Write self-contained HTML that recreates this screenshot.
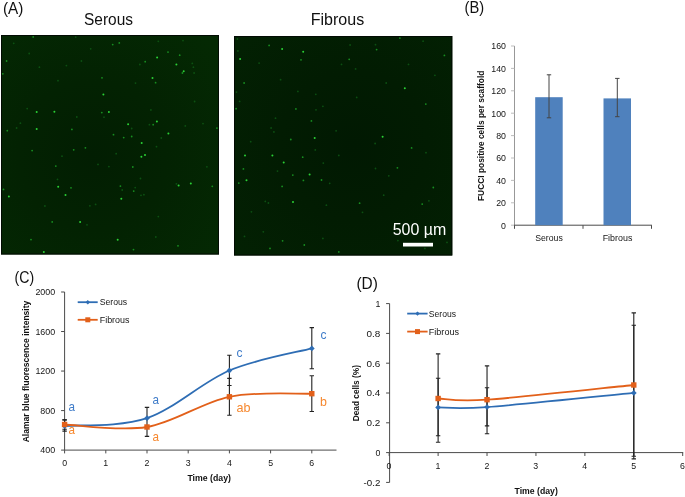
<!DOCTYPE html>
<html lang="en">
<head>
<meta charset="utf-8">
<title>Figure</title>
<style>
html,body{margin:0;padding:0;background:#fff;}
body{width:685px;height:497px;overflow:hidden;}
svg{display:block;font-family:'Liberation Sans', 'DejaVu Sans', sans-serif;}
</style>
</head>
<body>
<svg width="685" height="497" viewBox="0 0 685 497">
<rect width="685" height="497" fill="#fff"/>
<defs><radialGradient id="gA" cx="0.42" cy="0.55" r="0.75"><stop offset="0" stop-color="#021e02"/><stop offset="0.45" stop-color="#032202"/><stop offset="1" stop-color="#042903"/></radialGradient></defs>
<rect x="1" y="35" width="218" height="219.5" fill="url(#gA)"/>
<rect x="1.5" y="35.5" width="217" height="218.5" fill="none" stroke="#020b03" stroke-width="1"/>
<g fill="#2ad035" opacity="1.0"><circle cx="103.4" cy="94.6" r="1.0"/><circle cx="36.7" cy="112.1" r="1.0"/><circle cx="54.4" cy="111.7" r="1.0"/><circle cx="108.9" cy="111.9" r="1.0"/><circle cx="36.7" cy="129" r="1.0"/><circle cx="157.1" cy="57.5" r="1.0"/><circle cx="176.4" cy="64.5" r="1.0"/><circle cx="183.7" cy="71.2" r="1.0"/><circle cx="152.5" cy="78" r="1.0"/><circle cx="156.9" cy="121.4" r="1.0"/><circle cx="128.1" cy="124.3" r="1.0"/><circle cx="168.4" cy="133.6" r="1.0"/><circle cx="141.7" cy="142.9" r="1.0"/><circle cx="58.2" cy="186.7" r="1.0"/><circle cx="8.9" cy="196.5" r="1.0"/><circle cx="65.5" cy="194.9" r="1.0"/><circle cx="80.1" cy="221.9" r="1.0"/><circle cx="43.8" cy="252" r="1.0"/><circle cx="145" cy="155.1" r="1.0"/><circle cx="141.4" cy="156.8" r="1.0"/><circle cx="121.3" cy="198.7" r="1.0"/><circle cx="178.6" cy="185.6" r="1.0"/><circle cx="190.8" cy="183.4" r="1.0"/><circle cx="117.7" cy="239.8" r="1.0"/></g>
<g fill="#1a9a24" opacity="0.9"><circle cx="33.2" cy="36.9" r="0.9"/><circle cx="6.6" cy="61" r="0.9"/><circle cx="2.8" cy="73.8" r="0.9"/><circle cx="102" cy="77.8" r="0.9"/><circle cx="101.8" cy="112.6" r="0.9"/><circle cx="7.3" cy="130.7" r="0.9"/><circle cx="71.9" cy="129.4" r="0.9"/><circle cx="112.7" cy="44.6" r="0.9"/><circle cx="119.3" cy="42.9" r="0.9"/><circle cx="168" cy="52.1" r="0.9"/><circle cx="179.7" cy="55.2" r="0.9"/><circle cx="145.2" cy="61.7" r="0.9"/><circle cx="182.4" cy="73" r="0.9"/><circle cx="155.6" cy="82.7" r="0.9"/><circle cx="153.2" cy="124.7" r="0.9"/><circle cx="216.9" cy="128.1" r="0.9"/><circle cx="113.5" cy="134.7" r="0.9"/><circle cx="123.7" cy="137.6" r="0.9"/><circle cx="131.7" cy="136.5" r="0.9"/><circle cx="32.1" cy="150.6" r="0.9"/><circle cx="73.7" cy="149.8" r="0.9"/><circle cx="85.4" cy="147.8" r="0.9"/><circle cx="55.8" cy="166.1" r="0.9"/><circle cx="71" cy="187.8" r="0.9"/><circle cx="3.5" cy="189.4" r="0.9"/><circle cx="52.2" cy="221.9" r="0.9"/><circle cx="31" cy="239.6" r="0.9"/><circle cx="132.8" cy="167" r="0.9"/><circle cx="120.4" cy="186.1" r="0.9"/><circle cx="133.7" cy="191.1" r="0.9"/><circle cx="212.3" cy="186.3" r="0.9"/><circle cx="178" cy="245.8" r="0.9"/><circle cx="133.5" cy="249.6" r="0.9"/></g>
<g fill="#0f5c16" opacity="0.8"><circle cx="13.7" cy="43.3" r="0.9"/><circle cx="75.7" cy="37.1" r="0.9"/><circle cx="90.7" cy="48.8" r="0.9"/><circle cx="29.2" cy="53.5" r="0.9"/><circle cx="39.4" cy="67.2" r="0.9"/><circle cx="66.4" cy="65.6" r="0.9"/><circle cx="81.4" cy="61" r="0.9"/><circle cx="58" cy="80.7" r="0.9"/><circle cx="27.2" cy="108.6" r="0.9"/><circle cx="76.8" cy="117" r="0.9"/><circle cx="104" cy="117.2" r="0.9"/><circle cx="16.6" cy="128" r="0.9"/><circle cx="20.4" cy="123.2" r="0.9"/><circle cx="158.3" cy="41.3" r="0.9"/><circle cx="183" cy="40.6" r="0.9"/><circle cx="139.9" cy="64.5" r="0.9"/><circle cx="192.3" cy="63.4" r="0.9"/><circle cx="193.4" cy="67.2" r="0.9"/><circle cx="194.1" cy="73" r="0.9"/><circle cx="135.5" cy="83.1" r="0.9"/><circle cx="150.9" cy="109.9" r="0.9"/><circle cx="149.4" cy="124.7" r="0.9"/><circle cx="131.7" cy="128.5" r="0.9"/><circle cx="185.3" cy="125.9" r="0.9"/><circle cx="203" cy="123.6" r="0.9"/><circle cx="161.3" cy="138" r="0.9"/><circle cx="194.6" cy="101.5" r="0.9"/><circle cx="62" cy="156.2" r="0.9"/><circle cx="98" cy="164.4" r="0.9"/><circle cx="108.9" cy="166.6" r="0.9"/><circle cx="57.5" cy="179.4" r="0.9"/><circle cx="44.9" cy="206" r="0.9"/><circle cx="95.6" cy="204.4" r="0.9"/><circle cx="89.9" cy="205.8" r="0.9"/><circle cx="87" cy="224.8" r="0.9"/><circle cx="140.5" cy="178.5" r="0.9"/><circle cx="122.2" cy="190" r="0.9"/><circle cx="135.2" cy="187.6" r="0.9"/><circle cx="143.9" cy="194.7" r="0.9"/><circle cx="141" cy="195.3" r="0.9"/><circle cx="176.4" cy="183.8" r="0.9"/><circle cx="206.9" cy="166.8" r="0.9"/><circle cx="158.3" cy="216.6" r="0.9"/><circle cx="155.8" cy="237" r="0.9"/><circle cx="156.5" cy="146.7" r="0.9"/><circle cx="116.2" cy="153.7" r="0.9"/></g>
<defs><radialGradient id="gB" cx="0.55" cy="0.5" r="0.75"><stop offset="0" stop-color="#011902"/><stop offset="0.45" stop-color="#021c02"/><stop offset="1" stop-color="#032103"/></radialGradient></defs>
<rect x="234" y="36" width="218.3" height="219.5" fill="url(#gB)"/>
<rect x="234.5" y="36.5" width="217.3" height="218.5" fill="none" stroke="#020b03" stroke-width="1"/>
<g fill="#2ad035" opacity="1.0"><circle cx="282.1" cy="48.9" r="1.0"/><circle cx="303.2" cy="51.8" r="1.0"/><circle cx="240.1" cy="58.9" r="1.0"/><circle cx="314.7" cy="138.1" r="1.0"/><circle cx="404.8" cy="88.3" r="1.0"/><circle cx="382.6" cy="136.8" r="1.0"/><circle cx="245" cy="155.4" r="1.0"/><circle cx="272.4" cy="155.6" r="1.0"/><circle cx="283.7" cy="162.5" r="1.0"/><circle cx="309.6" cy="174.4" r="1.0"/><circle cx="246.5" cy="180.2" r="1.0"/><circle cx="293" cy="201.9" r="1.0"/></g>
<g fill="#1a9a24" opacity="0.9"><circle cx="269.1" cy="45.4" r="0.9"/><circle cx="301" cy="59.8" r="0.9"/><circle cx="244.1" cy="83" r="0.9"/><circle cx="236.1" cy="108.7" r="0.9"/><circle cx="295.9" cy="108.9" r="0.9"/><circle cx="311.4" cy="120.9" r="0.9"/><circle cx="290.8" cy="139.5" r="0.9"/><circle cx="399.9" cy="38.1" r="0.9"/><circle cx="376.6" cy="49.6" r="0.9"/><circle cx="349.2" cy="59.3" r="0.9"/><circle cx="444.4" cy="55.4" r="0.9"/><circle cx="425.8" cy="104.1" r="0.9"/><circle cx="302.7" cy="157.2" r="0.9"/><circle cx="243.4" cy="168.9" r="0.9"/><circle cx="292.8" cy="175.1" r="0.9"/><circle cx="303.4" cy="180.4" r="0.9"/><circle cx="321.5" cy="180" r="0.9"/><circle cx="238.8" cy="183.1" r="0.9"/><circle cx="282.1" cy="186.4" r="0.9"/><circle cx="282.6" cy="240.8" r="0.9"/><circle cx="304.3" cy="245" r="0.9"/><circle cx="270" cy="248.4" r="0.9"/><circle cx="338.8" cy="251.9" r="0.9"/><circle cx="411.6" cy="147.9" r="0.9"/><circle cx="397.4" cy="167.8" r="0.9"/><circle cx="433.3" cy="187.5" r="0.9"/><circle cx="359.6" cy="203.2" r="0.9"/><circle cx="422.2" cy="204.1" r="0.9"/></g>
<g fill="#0f5c16" opacity="0.8"><circle cx="237.9" cy="50.9" r="0.9"/><circle cx="237.4" cy="39" r="0.9"/><circle cx="259.1" cy="63.1" r="0.9"/><circle cx="341.5" cy="64.4" r="0.9"/><circle cx="280.6" cy="79.7" r="0.9"/><circle cx="236.5" cy="92.1" r="0.9"/><circle cx="297.9" cy="91.4" r="0.9"/><circle cx="315.8" cy="94.3" r="0.9"/><circle cx="239.6" cy="101.4" r="0.9"/><circle cx="322.9" cy="106.3" r="0.9"/><circle cx="316" cy="109.8" r="0.9"/><circle cx="275.5" cy="118.2" r="0.9"/><circle cx="271.1" cy="128" r="0.9"/><circle cx="273.9" cy="131.9" r="0.9"/><circle cx="336.1" cy="130.8" r="0.9"/><circle cx="250.7" cy="141.7" r="0.9"/><circle cx="375.5" cy="44.7" r="0.9"/><circle cx="350.1" cy="45" r="0.9"/><circle cx="355.6" cy="68.9" r="0.9"/><circle cx="408.5" cy="64.4" r="0.9"/><circle cx="386.2" cy="83" r="0.9"/><circle cx="356.7" cy="97.4" r="0.9"/><circle cx="434.9" cy="75.3" r="0.9"/><circle cx="375.1" cy="143.5" r="0.9"/><circle cx="423.1" cy="41.2" r="0.9"/><circle cx="315.3" cy="149.9" r="0.9"/><circle cx="323.3" cy="163.1" r="0.9"/><circle cx="338.8" cy="155.4" r="0.9"/><circle cx="277.5" cy="171.1" r="0.9"/><circle cx="329.7" cy="183.3" r="0.9"/><circle cx="265.3" cy="201.4" r="0.9"/><circle cx="268.4" cy="203" r="0.9"/><circle cx="326.4" cy="205.2" r="0.9"/><circle cx="251.4" cy="211.8" r="0.9"/><circle cx="263.3" cy="231.8" r="0.9"/><circle cx="244.5" cy="236.4" r="0.9"/><circle cx="322.9" cy="238.4" r="0.9"/><circle cx="426" cy="152.7" r="0.9"/><circle cx="388.8" cy="175.8" r="0.9"/><circle cx="383.7" cy="195.2" r="0.9"/><circle cx="428.9" cy="200.8" r="0.9"/><circle cx="362.5" cy="212.3" r="0.9"/><circle cx="424.9" cy="248.4" r="0.9"/><circle cx="447" cy="242.4" r="0.9"/><circle cx="397.9" cy="240.6" r="0.9"/><circle cx="375.5" cy="168.5" r="0.9"/></g>
<text x="2.9" y="13.8" font-size="15.8" text-anchor="start" fill="#111" textLength="20.4" lengthAdjust="spacingAndGlyphs">(A)</text>
<text x="464.6" y="13.0" font-size="15.8" text-anchor="start" fill="#111" textLength="19.6" lengthAdjust="spacingAndGlyphs">(B)</text>
<text x="14.6" y="283" font-size="15.8" text-anchor="start" fill="#111" textLength="19.6" lengthAdjust="spacingAndGlyphs">(C)</text>
<text x="356.4" y="289.1" font-size="15.8" text-anchor="start" fill="#111" textLength="21.4" lengthAdjust="spacingAndGlyphs">(D)</text>
<text x="84" y="25" font-size="15.8" text-anchor="start" fill="#111" textLength="49" lengthAdjust="spacingAndGlyphs">Serous</text>
<text x="310.7" y="25" font-size="15.8" text-anchor="start" fill="#111" textLength="53.5" lengthAdjust="spacingAndGlyphs">Fibrous</text>
<text x="392.7" y="234.8" font-size="15.8" text-anchor="start" fill="#fff" textLength="53.5" lengthAdjust="spacingAndGlyphs">500 µm</text>
<rect x="403" y="242.8" width="30" height="3.7" fill="#fff"/>
<path d="M514.5 46.00 V225.2" stroke="#8c8c8c" stroke-width="0.9" fill="none"/>
<g stroke="#b5b5b5" stroke-width="0.9" fill="none">
<path d="M511.0 225.20 H514.5"/>
<path d="M511.0 202.80 H514.5"/>
<path d="M511.0 180.40 H514.5"/>
<path d="M511.0 158.00 H514.5"/>
<path d="M511.0 135.60 H514.5"/>
<path d="M511.0 113.20 H514.5"/>
<path d="M511.0 90.80 H514.5"/>
<path d="M511.0 68.40 H514.5"/>
<path d="M511.0 46.00 H514.5"/>
</g>
<g stroke="#4a4a4a" stroke-width="1" fill="none">
<path d="M514.1 225.2 H651.9"/>
<path d="M514.5 225.2 v3.6"/>
<path d="M583 225.2 v3.6"/>
<path d="M651.5 225.2 v3.6"/>
</g>
<text x="506.0" y="228.5" font-size="9" text-anchor="end" fill="#151515" textLength="4.9" lengthAdjust="spacingAndGlyphs">0</text>
<text x="506.0" y="206.1" font-size="9" text-anchor="end" fill="#151515" textLength="9.8" lengthAdjust="spacingAndGlyphs">20</text>
<text x="506.0" y="183.7" font-size="9" text-anchor="end" fill="#151515" textLength="9.8" lengthAdjust="spacingAndGlyphs">40</text>
<text x="506.0" y="161.3" font-size="9" text-anchor="end" fill="#151515" textLength="9.8" lengthAdjust="spacingAndGlyphs">60</text>
<text x="506.0" y="138.9" font-size="9" text-anchor="end" fill="#151515" textLength="9.8" lengthAdjust="spacingAndGlyphs">80</text>
<text x="506.0" y="116.5" font-size="9" text-anchor="end" fill="#151515" textLength="14.7" lengthAdjust="spacingAndGlyphs">100</text>
<text x="506.0" y="94.1" font-size="9" text-anchor="end" fill="#151515" textLength="14.7" lengthAdjust="spacingAndGlyphs">120</text>
<text x="506.0" y="71.7" font-size="9" text-anchor="end" fill="#151515" textLength="14.7" lengthAdjust="spacingAndGlyphs">140</text>
<text x="506.0" y="49.3" font-size="9" text-anchor="end" fill="#151515" textLength="14.7" lengthAdjust="spacingAndGlyphs">160</text>
<rect x="535.2" y="97.2" width="27.5" height="128.0" fill="#4f81bd"/>
<rect x="603.5" y="98.4" width="27.5" height="126.8" fill="#4f81bd"/>
<path d="M549 74.8 V117.8 M546.8 74.8 h4.4 M546.8 117.8 h4.4" stroke="#444" stroke-width="1" fill="none"/>
<path d="M617.3 78.4 V116.7 M615.0999999999999 78.4 h4.4 M615.0999999999999 116.7 h4.4" stroke="#444" stroke-width="1" fill="none"/>
<text x="549" y="241.3" font-size="8.8" text-anchor="middle" fill="#151515" textLength="27.6" lengthAdjust="spacingAndGlyphs">Serous</text>
<text x="617.5" y="241.3" font-size="8.8" text-anchor="middle" fill="#151515" textLength="29.7" lengthAdjust="spacingAndGlyphs">Fibrous</text>
<text x="484" y="135.8" font-size="8.8" text-anchor="middle" fill="#111" font-weight="bold" textLength="130.4" lengthAdjust="spacingAndGlyphs" transform="rotate(-90 484 135.8)">FUCCI positive cells per scaffold</text>
<g stroke="#4a4a4a" stroke-width="1" fill="none">
<path d="M64.6 292.0 V450.1 H336.5"/>
<path d="M61.099999999999994 450.10 H64.6"/>
<path d="M61.099999999999994 410.58 H64.6"/>
<path d="M61.099999999999994 371.05 H64.6"/>
<path d="M61.099999999999994 331.52 H64.6"/>
<path d="M61.099999999999994 292.00 H64.6"/>
<path d="M64.60 450.1 v3.3"/>
<path d="M105.80 450.1 v3.3"/>
<path d="M147.00 450.1 v3.3"/>
<path d="M188.20 450.1 v3.3"/>
<path d="M229.40 450.1 v3.3"/>
<path d="M270.60 450.1 v3.3"/>
<path d="M311.80 450.1 v3.3"/>
</g>
<text x="55.2" y="453.4" font-size="9" text-anchor="end" fill="#151515" textLength="14.9" lengthAdjust="spacingAndGlyphs">400</text>
<text x="55.2" y="413.88" font-size="9" text-anchor="end" fill="#151515" textLength="14.9" lengthAdjust="spacingAndGlyphs">800</text>
<text x="55.2" y="374.35" font-size="9" text-anchor="end" fill="#151515" textLength="19.8" lengthAdjust="spacingAndGlyphs">1200</text>
<text x="55.2" y="334.82" font-size="9" text-anchor="end" fill="#151515" textLength="19.8" lengthAdjust="spacingAndGlyphs">1600</text>
<text x="55.2" y="295.3" font-size="9" text-anchor="end" fill="#151515" textLength="19.8" lengthAdjust="spacingAndGlyphs">2000</text>
<text x="64.6" y="466.2" font-size="9" text-anchor="middle" fill="#151515" textLength="4.9" lengthAdjust="spacingAndGlyphs">0</text>
<text x="105.8" y="466.2" font-size="9" text-anchor="middle" fill="#151515" textLength="4.9" lengthAdjust="spacingAndGlyphs">1</text>
<text x="147.0" y="466.2" font-size="9" text-anchor="middle" fill="#151515" textLength="4.9" lengthAdjust="spacingAndGlyphs">2</text>
<text x="188.2" y="466.2" font-size="9" text-anchor="middle" fill="#151515" textLength="4.9" lengthAdjust="spacingAndGlyphs">3</text>
<text x="229.4" y="466.2" font-size="9" text-anchor="middle" fill="#151515" textLength="4.9" lengthAdjust="spacingAndGlyphs">4</text>
<text x="270.6" y="466.2" font-size="9" text-anchor="middle" fill="#151515" textLength="4.9" lengthAdjust="spacingAndGlyphs">5</text>
<text x="311.8" y="466.2" font-size="9" text-anchor="middle" fill="#151515" textLength="4.9" lengthAdjust="spacingAndGlyphs">6</text>
<text x="209.2" y="480.9" font-size="8.8" text-anchor="middle" fill="#111" font-weight="bold" textLength="43.5" lengthAdjust="spacingAndGlyphs">Time (day)</text>
<text x="29" y="371.5" font-size="8.8" text-anchor="middle" fill="#111" font-weight="bold" textLength="141.7" lengthAdjust="spacingAndGlyphs" transform="rotate(-90 29 371.5)">Alamar blue fluorescence intensity</text>
<path d="M64.6 419.9 V431.1 M62.39999999999999 419.9 h4.4 M62.39999999999999 431.1 h4.4" stroke="#222" stroke-width="1.1" fill="none"/>
<path d="M64.6 419.9 V429.2 M62.39999999999999 419.9 h4.4 M62.39999999999999 429.2 h4.4" stroke="#222" stroke-width="1.1" fill="none"/>
<path d="M147.0 407.4 V436.4 M144.8 407.4 h4.4 M144.8 436.4 h4.4" stroke="#222" stroke-width="1.1" fill="none"/>
<path d="M229.4 355.2 V385.5 M227.20000000000002 355.2 h4.4 M227.20000000000002 385.5 h4.4" stroke="#222" stroke-width="1.1" fill="none"/>
<path d="M229.4 378.4 V415.3 M227.20000000000002 378.4 h4.4 M227.20000000000002 415.3 h4.4" stroke="#222" stroke-width="1.1" fill="none"/>
<path d="M311.8 327.6 V368.7 M309.6 327.6 h4.4 M309.6 368.7 h4.4" stroke="#222" stroke-width="1.1" fill="none"/>
<path d="M311.8 375.8 V411.5 M309.6 375.8 h4.4 M309.6 411.5 h4.4" stroke="#222" stroke-width="1.1" fill="none"/>
<path d="M64.60 426.00 C78.33 424.70 119.53 427.45 147.00 418.20 C174.47 408.95 201.93 382.13 229.40 370.50 C256.87 358.87 298.07 352.08 311.80 348.40" stroke="#2e6db4" stroke-width="1.8" fill="none"/>
<path d="M61.699999999999996 426 L64.6 423.1 L67.5 426 L64.6 428.9Z" fill="#2e6db4"/>
<path d="M144.1 418.2 L147.0 415.3 L149.9 418.2 L147.0 421.09999999999997Z" fill="#2e6db4"/>
<path d="M226.5 370.5 L229.4 367.6 L232.3 370.5 L229.4 373.4Z" fill="#2e6db4"/>
<path d="M308.90000000000003 348.4 L311.8 345.5 L314.7 348.4 L311.8 351.29999999999995Z" fill="#2e6db4"/>
<path d="M64.60 424.50 C78.33 424.92 119.53 431.62 147.00 427.00 C174.47 422.38 201.93 402.35 229.40 396.80 C256.87 391.25 298.07 394.22 311.80 393.70" stroke="#e2601a" stroke-width="1.8" fill="none"/>
<rect x="61.90" y="421.80" width="5.4" height="5.4" fill="#e2601a"/>
<rect x="144.30" y="424.30" width="5.4" height="5.4" fill="#e2601a"/>
<rect x="226.70" y="394.10" width="5.4" height="5.4" fill="#e2601a"/>
<rect x="309.10" y="391.00" width="5.4" height="5.4" fill="#e2601a"/>
<path d="M77.7 302.2 H97.7" stroke="#2e6db4" stroke-width="1.8"/>
<path d="M85.6 302.2 L87.8 300.0 L90.0 302.2 L87.8 304.4Z" fill="#2e6db4"/>
<path d="M77.7 319.8 H97.7" stroke="#e2601a" stroke-width="1.8"/>
<rect x="85.30" y="317.30" width="5" height="5" fill="#e2601a"/>
<text x="99.7" y="305.1" font-size="8.8" text-anchor="start" fill="#151515" textLength="27.4" lengthAdjust="spacingAndGlyphs">Serous</text>
<text x="99.7" y="322.7" font-size="8.8" text-anchor="start" fill="#151515" textLength="29.8" lengthAdjust="spacingAndGlyphs">Fibrous</text>
<text x="68.6" y="411.4" font-size="13" text-anchor="start" fill="#3f7cc9" textLength="6.5" lengthAdjust="spacingAndGlyphs">a</text>
<text x="68.4" y="433.9" font-size="13" text-anchor="start" fill="#f6882f" textLength="6.5" lengthAdjust="spacingAndGlyphs">a</text>
<text x="152.6" y="404.4" font-size="13" text-anchor="start" fill="#3f7cc9" textLength="6.5" lengthAdjust="spacingAndGlyphs">a</text>
<text x="152.6" y="441.1" font-size="13" text-anchor="start" fill="#f6882f" textLength="6.5" lengthAdjust="spacingAndGlyphs">a</text>
<text x="236.6" y="356.9" font-size="13" text-anchor="start" fill="#3f7cc9" textLength="6.0" lengthAdjust="spacingAndGlyphs">c</text>
<text x="236.5" y="411.5" font-size="13" text-anchor="start" fill="#f6882f" textLength="14.0" lengthAdjust="spacingAndGlyphs">ab</text>
<text x="320.4" y="338.9" font-size="13" text-anchor="start" fill="#3f7cc9" textLength="6.0" lengthAdjust="spacingAndGlyphs">c</text>
<text x="320" y="405.7" font-size="13" text-anchor="start" fill="#f6882f" textLength="6.9" lengthAdjust="spacingAndGlyphs">b</text>
<g stroke="#4a4a4a" stroke-width="1" fill="none">
<path d="M389.6 303.60 V482.40"/>
<path d="M389.6 452.6 H683.2"/>
<path d="M386.1 482.40 H389.6"/>
<path d="M386.1 452.60 H389.6"/>
<path d="M386.1 422.80 H389.6"/>
<path d="M386.1 393.00 H389.6"/>
<path d="M386.1 363.20 H389.6"/>
<path d="M386.1 333.40 H389.6"/>
<path d="M386.1 303.60 H389.6"/>
<path d="M389.20 452.6 v3.4"/>
<path d="M438.12 452.6 v3.4"/>
<path d="M487.03 452.6 v3.4"/>
<path d="M535.95 452.6 v3.4"/>
<path d="M584.87 452.6 v3.4"/>
<path d="M633.78 452.6 v3.4"/>
<path d="M682.70 452.6 v3.4"/>
</g>
<text x="380.4" y="485.7" font-size="9" text-anchor="end" fill="#151515" textLength="16.8" lengthAdjust="spacingAndGlyphs">-0.2</text>
<text x="380.4" y="455.9" font-size="9" text-anchor="end" fill="#151515" textLength="4.9" lengthAdjust="spacingAndGlyphs">0</text>
<text x="380.4" y="426.1" font-size="9" text-anchor="end" fill="#151515" textLength="13.8" lengthAdjust="spacingAndGlyphs">0.2</text>
<text x="380.4" y="396.3" font-size="9" text-anchor="end" fill="#151515" textLength="13.8" lengthAdjust="spacingAndGlyphs">0.4</text>
<text x="380.4" y="366.5" font-size="9" text-anchor="end" fill="#151515" textLength="13.8" lengthAdjust="spacingAndGlyphs">0.6</text>
<text x="380.4" y="336.7" font-size="9" text-anchor="end" fill="#151515" textLength="13.8" lengthAdjust="spacingAndGlyphs">0.8</text>
<text x="380.4" y="306.9" font-size="9" text-anchor="end" fill="#151515" textLength="4.9" lengthAdjust="spacingAndGlyphs">1</text>
<text x="389.0" y="468.6" font-size="9" text-anchor="middle" fill="#151515" textLength="4.9" lengthAdjust="spacingAndGlyphs">0</text>
<text x="437.92" y="468.6" font-size="9" text-anchor="middle" fill="#151515" textLength="4.9" lengthAdjust="spacingAndGlyphs">1</text>
<text x="486.83" y="468.6" font-size="9" text-anchor="middle" fill="#151515" textLength="4.9" lengthAdjust="spacingAndGlyphs">2</text>
<text x="535.75" y="468.6" font-size="9" text-anchor="middle" fill="#151515" textLength="4.9" lengthAdjust="spacingAndGlyphs">3</text>
<text x="584.67" y="468.6" font-size="9" text-anchor="middle" fill="#151515" textLength="4.9" lengthAdjust="spacingAndGlyphs">4</text>
<text x="633.58" y="468.6" font-size="9" text-anchor="middle" fill="#151515" textLength="4.9" lengthAdjust="spacingAndGlyphs">5</text>
<text x="682.5" y="468.6" font-size="9" text-anchor="middle" fill="#151515" textLength="4.9" lengthAdjust="spacingAndGlyphs">6</text>
<text x="536.2" y="493.5" font-size="8.8" text-anchor="middle" fill="#111" font-weight="bold" textLength="43.3" lengthAdjust="spacingAndGlyphs">Time (day)</text>
<text x="358.6" y="393.2" font-size="8.8" text-anchor="middle" fill="#111" font-weight="bold" textLength="56.2" lengthAdjust="spacingAndGlyphs" transform="rotate(-90 358.6 393.2)">Dead cells (%)</text>
<path d="M438.1166666666667 353.9 V442.3 M435.9166666666667 353.9 h4.4 M435.9166666666667 442.3 h4.4" stroke="#222" stroke-width="1.1" fill="none"/>
<path d="M438.1166666666667 378.2 V435.8 M435.9166666666667 378.2 h4.4 M435.9166666666667 435.8 h4.4" stroke="#222" stroke-width="1.1" fill="none"/>
<path d="M487.03333333333336 365.9 V433.8 M484.83333333333337 365.9 h4.4 M484.83333333333337 433.8 h4.4" stroke="#222" stroke-width="1.1" fill="none"/>
<path d="M487.03333333333336 387.7 V425.9 M484.83333333333337 387.7 h4.4 M484.83333333333337 425.9 h4.4" stroke="#222" stroke-width="1.1" fill="none"/>
<path d="M633.7833333333334 312.9 V458.9 M631.5833333333334 312.9 h4.4 M631.5833333333334 458.9 h4.4" stroke="#222" stroke-width="1.1" fill="none"/>
<path d="M633.7833333333334 325.2 V456.2 M631.5833333333334 325.2 h4.4 M631.5833333333334 456.2 h4.4" stroke="#222" stroke-width="1.1" fill="none"/>
<path d="M438.12 407.40 C446.27 407.35 454.42 409.52 487.03 407.10 C519.64 404.68 609.33 395.27 633.78 392.90" stroke="#2e6db4" stroke-width="1.8" fill="none"/>
<path d="M435.2166666666667 407.4 L438.1166666666667 404.5 L441.01666666666665 407.4 L438.1166666666667 410.29999999999995Z" fill="#2e6db4"/>
<path d="M484.1333333333334 407.1 L487.03333333333336 404.20000000000005 L489.93333333333334 407.1 L487.03333333333336 410.0Z" fill="#2e6db4"/>
<path d="M630.8833333333334 392.9 L633.7833333333334 390.0 L636.6833333333334 392.9 L633.7833333333334 395.79999999999995Z" fill="#2e6db4"/>
<path d="M438.12 398.50 C446.27 398.70 454.42 401.95 487.03 399.70 C519.64 397.45 609.33 387.45 633.78 385.00" stroke="#e2601a" stroke-width="1.8" fill="none"/>
<rect x="435.42" y="395.80" width="5.4" height="5.4" fill="#e2601a"/>
<rect x="484.33" y="397.00" width="5.4" height="5.4" fill="#e2601a"/>
<rect x="631.08" y="382.30" width="5.4" height="5.4" fill="#e2601a"/>
<path d="M407.2 313.6 H427.6" stroke="#2e6db4" stroke-width="1.8"/>
<path d="M415.3 313.6 L417.5 311.40000000000003 L419.7 313.6 L417.5 315.8Z" fill="#2e6db4"/>
<path d="M407.2 331.6 H427.6" stroke="#e2601a" stroke-width="1.8"/>
<rect x="415.00" y="329.10" width="5" height="5" fill="#e2601a"/>
<text x="428.8" y="316.5" font-size="8.8" text-anchor="start" fill="#151515" textLength="27.2" lengthAdjust="spacingAndGlyphs">Serous</text>
<text x="428.8" y="334.5" font-size="8.8" text-anchor="start" fill="#151515" textLength="30.2" lengthAdjust="spacingAndGlyphs">Fibrous</text>
</svg>
</body>
</html>
